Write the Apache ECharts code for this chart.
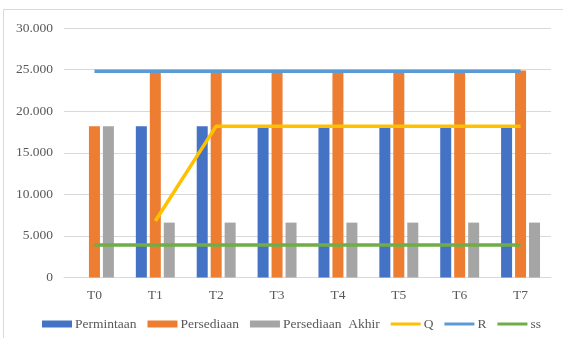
<!DOCTYPE html>
<html>
<head>
<meta charset="utf-8">
<script src="https://cdn.jsdelivr.net/npm/echarts@6/dist/echarts.min.js"></script>
<style>
  html, body { margin: 0; padding: 0; background: #fff; }
  #chart { width: 563px; height: 338px; }
</style>
</head>
<body>
<div id="chart"></div>
<script>
// Periods
const categories = ['T0', 'T1', 'T2', 'T3', 'T4', 'T5', 'T6', 'T7'];

// Bar series
const permintaan = [null, 18200, 18200, 18200, 18200, 18200, 18200, 18200];
const persediaan = [18200, 24900, 24900, 24900, 24900, 24900, 24900, 24900];
const persediaanAkhir = [18200, 6600, 6600, 6600, 6600, 6600, 6600, 6600];

// Line series
const q = [null, 6800, 18200, 18200, 18200, 18200, 18200, 18200];
const r = [24800, 24800, 24800, 24800, 24800, 24800, 24800, 24800];
const ss = [3900, 3900, 3900, 3900, 3900, 3900, 3900, 3900];

// Value axis ticks
const yMin = 0, yMax = 30000, yStep = 5000;

const FONT = "'Liberation Serif', 'Times New Roman', serif";
const TEXT = '#595959';

// Thin bar inside a 30x7 box, used as legend key for the line series
const LINE_KEY = 'path://M0,0 M0,2 L30,2 L30,5 L0,5 Z M30,7';

function fmt(v) {
  return String(v).replace(/\B(?=(\d{3})+(?!\d))/g, '.');
}

const chart = echarts.init(document.getElementById('chart'), null, { renderer: 'canvas' });

const barCommon = { type: 'bar', barWidth: 11, barGap: '27%' };
const lineCommon = { type: 'line', symbol: 'none', showSymbol: false, z: 3 };

function lineSeries(name, data, color) {
  return Object.assign({}, lineCommon, {
    name: name,
    data: data,
    itemStyle: { color: color },
    lineStyle: { width: 3.5, color: color }
  });
}

chart.setOption({
  animation: false,
  backgroundColor: '#fff',
  graphic: [{
    type: 'rect',
    shape: { x: 3.5, y: 9.5, width: 600, height: 400 },
    style: { fill: 'none', stroke: '#D9D9D9', lineWidth: 1 },
    silent: true
  }],
  grid: { left: 64, right: 12, top: 28, bottom: 60.5, containLabel: false },
  legend: {
    left: 42,
    top: 317,
    padding: 0,
    width: 540,
    itemWidth: 30,
    itemHeight: 7,
    itemGap: 11,
    textStyle: { fontFamily: FONT, fontSize: 13.5, color: TEXT, padding: [0, 0, 0, -2] },
    data: [
      { name: 'Permintaan', icon: 'rect' },
      { name: 'Persediaan', icon: 'rect' },
      { name: 'Persediaan  Akhir', icon: 'rect' },
      { name: 'Q', icon: LINE_KEY },
      { name: 'R', icon: LINE_KEY },
      { name: 'ss', icon: LINE_KEY }
    ]
  },
  xAxis: {
    type: 'category',
    data: categories,
    boundaryGap: true,
    axisLine: { lineStyle: { color: '#D9D9D9', width: 1 } },
    axisTick: { show: false },
    axisLabel: { fontFamily: FONT, fontSize: 13.5, color: TEXT, margin: 11 }
  },
  yAxis: {
    type: 'value',
    min: yMin,
    max: yMax,
    interval: yStep,
    axisLine: { show: false },
    axisTick: { show: false },
    splitLine: { lineStyle: { color: '#D9D9D9', width: 1 } },
    axisLabel: { fontFamily: FONT, fontSize: 13.5, color: TEXT, margin: 11, formatter: fmt }
  },
  series: [
    Object.assign({}, barCommon, { name: 'Permintaan', data: permintaan, itemStyle: { color: '#4472C4' } }),
    Object.assign({}, barCommon, { name: 'Persediaan', data: persediaan, itemStyle: { color: '#ED7D31' } }),
    Object.assign({}, barCommon, { name: 'Persediaan  Akhir', data: persediaanAkhir, itemStyle: { color: '#A5A5A5' } }),
    lineSeries('Q', q, '#FFC000'),
    lineSeries('R', r, '#5B9BD5'),
    lineSeries('ss', ss, '#70AD47')
  ]
});
</script>
</body>
</html>
